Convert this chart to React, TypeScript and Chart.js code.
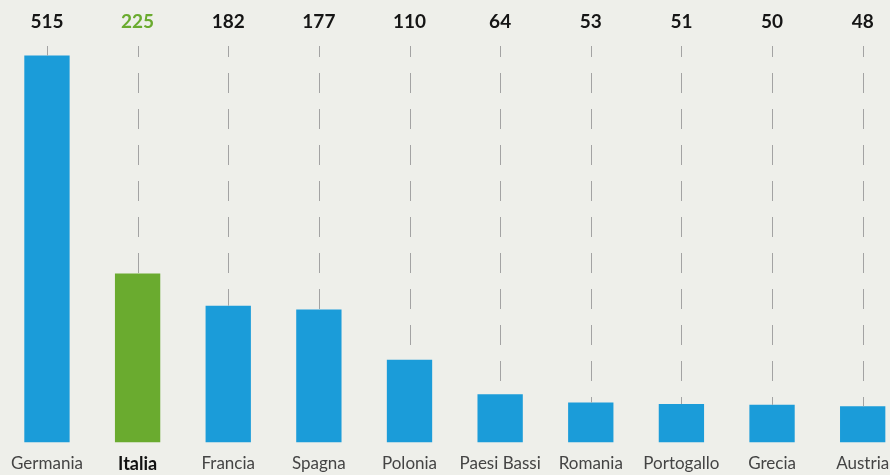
import React, { useEffect, useRef } from "react";
import { Chart, registerables } from "chart.js";

Chart.register(...registerables);

const categories = ["Germania", "Italia", "Francia", "Spagna", "Polonia", "Paesi Bassi", "Romania", "Portogallo", "Grecia", "Austria"];
const values = [515, 225, 182, 177, 110, 64, 53, 51, 50, 48];
const highlight = "Italia";

const BLUE = "#1b9cd9";
const GREEN = "#6aab2f";
const BG = "#eeefea";
const FONT = "Lato, 'Open Sans', sans-serif";

const labelsPlugin = {
  id: "valueLabels",
  afterDatasetsDraw(chart: any) {
    const ctx = chart.ctx;
    const meta = chart.getDatasetMeta(0);
    ctx.save();
    meta.data.forEach((bar: any, i: number) => {
      const x = Math.round(bar.x) + 0.5;
      ctx.beginPath();
      ctx.setLineDash([20, 16]);
      ctx.lineDashOffset = 9;
      ctx.strokeStyle = "#a3a3a3";
      ctx.lineWidth = 1;
      ctx.moveTo(x, 46);
      ctx.lineTo(x, bar.y);
      ctx.stroke();
      ctx.setLineDash([]);
      ctx.fillStyle = categories[i] === highlight ? GREEN : "#151515";
      ctx.font = `bold 19px ${FONT}`;
      ctx.textAlign = "center";
      ctx.textBaseline = "middle";
      ctx.fillText(String(values[i]), bar.x, 22);
    });
    ctx.restore();
  },
};

export default function App() {
  const ref = useRef<HTMLCanvasElement>(null);
  useEffect(() => {
    if (!ref.current) return;
    const chart = new Chart(ref.current, {
      type: "bar",
      data: {
        labels: categories,
        datasets: [
          {
            data: values,
            backgroundColor: categories.map((c) => (c === highlight ? GREEN : BLUE)),
            barPercentage: 0.5,
            categoryPercentage: 1,
            borderWidth: 0,
          },
        ],
      },
      options: {
        animation: false,
        responsive: false,
        maintainAspectRatio: false,
        layout: { padding: { top: 0, left: 0, right: 0, bottom: 2 } },
        plugins: { legend: { display: false }, tooltip: { enabled: false } },
        scales: {
          x: {
            grid: { display: false, drawTicks: false },
            border: { display: false },
            ticks: {
              padding: 11,
              autoSkip: false,
              maxRotation: 0,
              color: (c: any) => (categories[c.index] === highlight ? "#111" : "#444"),
              font: (c: any) => ({
                family: FONT,
                size: categories[c.index] === highlight ? 18 : 17,
                weight: categories[c.index] === highlight ? "bold" : "normal",
              }),
            },
          },
          y: { display: false, min: 0, max: 589 },
        },
      },
      plugins: [labelsPlugin],
    });
    return () => chart.destroy();
  }, []);
  return (
    <div style={{ position: "fixed", left: 0, top: 0, width: 890, height: 475, overflow: "hidden", background: BG }}>
      <canvas ref={ref} width={908} height={488} style={{ display: "block" }} />
    </div>
  );
}
